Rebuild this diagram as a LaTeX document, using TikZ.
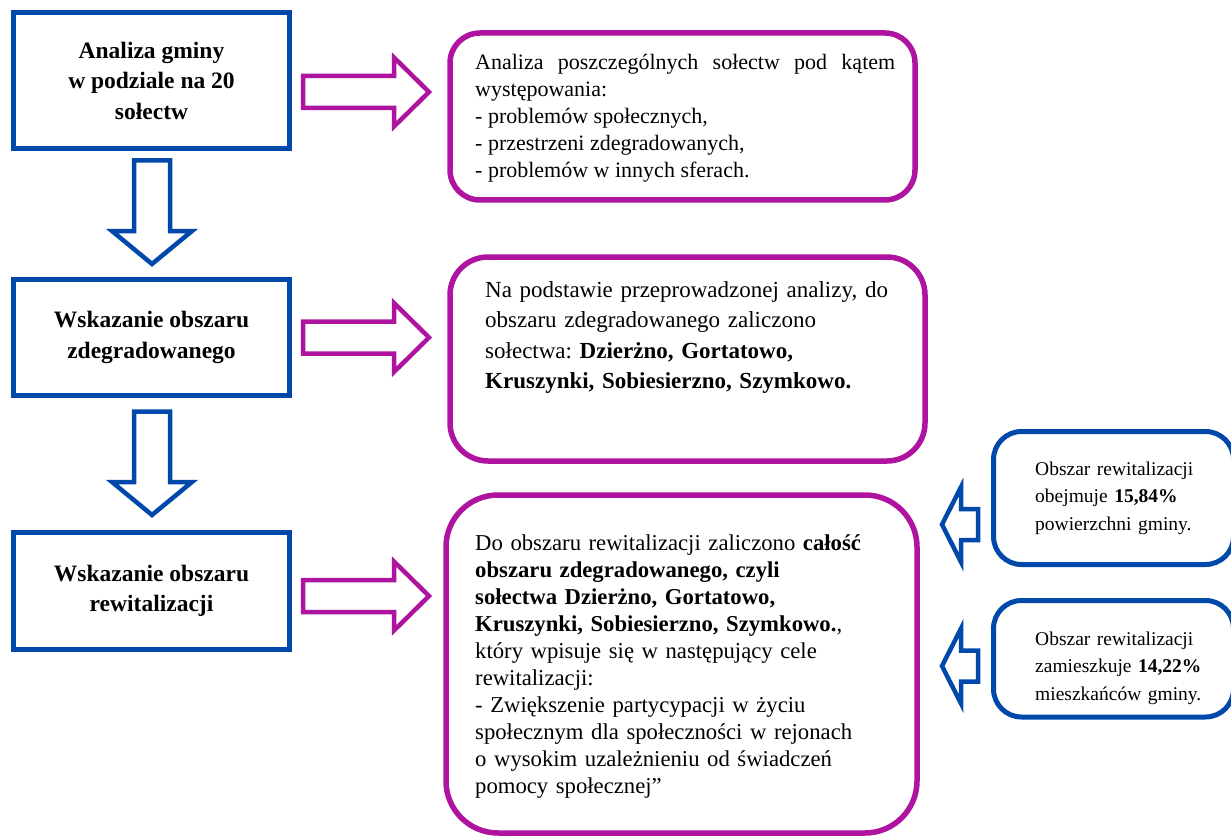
\documentclass[tikz,border=0pt]{standalone}
\usepackage{fontspec}
\setmainfont{Liberation Serif}
\frenchspacing
\definecolor{bl}{RGB}{0,72,170}
\definecolor{pu}{RGB}{175,20,160}
\newcommand\rightblock[1]{\draw[parr] (303,#1-16) -- (394,#1-16) -- (394,#1-34.5) -- (429,#1) -- (394,#1+34.5) -- (394,#1+16) -- (303,#1+16) -- cycle;}
\newcommand\downblock[1]{\draw[barr] (134,#1) -- (170,#1) -- (170,#1+70.5) -- (192,#1+70.5) -- (152,#1+103.5) -- (112,#1+70.5) -- (134,#1+70.5) -- cycle;}
\newcommand\leftblock[1]{\draw[barr] (978,#1-15.5) -- (961,#1-15.5) -- (961,#1-37.5) -- (942,#1) -- (961,#1+37.5) -- (961,#1+15.5) -- (978,#1+15.5) -- cycle;}
\begin{document}
\begin{tikzpicture}[x=1pt,y=-1pt,
  lbox/.style={draw=bl, line width=5pt, minimum width=276pt, inner sep=0pt, align=center, font=\bfseries\fontsize{23.5}{30.5}\selectfont},
  pbox/.style={draw=pu, line width=5.5pt, inner sep=0pt},
  rbox/.style={draw=bl, line width=5pt, inner sep=0pt, minimum width=240pt, rounded corners=28pt},
  ptext/.style={inner sep=0pt, anchor=base west, font=\fontsize{22}{27}\selectfont},
  rtext/.style={inner sep=0pt, anchor=base west, text width=190pt, align=left, font=\fontsize{19.5}{27.5}\selectfont},
  parr/.style={draw=pu, line width=4.5pt, fill=white},
  barr/.style={draw=bl, line width=4.5pt, fill=white}]
\useasboundingbox (0,0) rectangle (1231,837);
\clip (0,0) rectangle (1231,837);
% left column boxes
\node[lbox, minimum height=136pt] (b1) at (151.5,80.5) {Analiza gminy\\w podziale na 20\\sołectw};
\node[lbox, minimum height=116pt] (b2) at (151.5,337.5) {Wskazanie obszaru\\zdegradowanego};
\node[lbox, minimum height=117pt] (b3) at (151.5,591) {Wskazanie obszaru\\rewitalizacji};
% purple boxes
\node[pbox, minimum width=465pt, minimum height=167pt, rounded corners=30pt] (p1) at (682.5,116.5) {};
\node[pbox, minimum width=475pt, minimum height=204pt, rounded corners=38pt] (p2) at (687.5,359) {};
\node[pbox, minimum width=471pt, minimum height=338pt, rounded corners=52pt] (p3) at (681.5,664) {};
% right boxes
\node[rbox, minimum height=133pt] (r1) at (1113.5,498) {};
\node[rbox, minimum height=116.5pt] (r2) at (1113.5,658.75) {};
% texts
\node[ptext, text width=420pt, align=justify] (t1) at (475,70) {\hyphenpenalty=10000 Analiza poszczególnych sołectw pod kątem występowania:\\- problemów społecznych,\\- przestrzeni zdegradowanych,\\- problemów w innych sferach.};
\node[ptext, text width=430pt, align=left, font=\fontsize{23}{30.5}\selectfont] (t2) at (485,297) {Na podstawie przeprowadzonej analizy, do\\obszaru zdegradowanego zaliczono\\sołectwa: \textbf{Dzierżno, Gortatowo,}\\\textbf{Kruszynki, Sobiesierzno, Szymkowo.}};
\node[ptext, text width=430pt, align=left, font=\fontsize{22.7}{27}\selectfont] (t3) at (475,550) {Do obszaru rewitalizacji zaliczono \textbf{całość}\\\textbf{obszaru zdegradowanego, czyli}\\\textbf{sołectwa Dzierżno, Gortatowo,}\\\textbf{Kruszynki, Sobiesierzno, Szymkowo.},\\który wpisuje się w następujący cele\\rewitalizacji:\\- Zwiększenie partycypacji w życiu\\społecznym dla społeczności w rejonach\\o wysokim uzależnieniu od świadczeń\\pomocy społecznej”};
\node[rtext] (t4) at (1035,475) {Obszar rewitalizacji\\obejmuje \textbf{15,84\%}\\powierzchni gminy.};
\node[rtext] (t5) at (1035,645) {Obszar rewitalizacji\\zamieszkuje \textbf{14,22\%}\\mieszkańców gminy.};
% block arrows
\downblock{160.5}
\downblock{411.5}
\rightblock{92}
\rightblock{337.5}
\rightblock{596}
\leftblock{524.5}
\leftblock{666}
\end{tikzpicture}
\end{document}
